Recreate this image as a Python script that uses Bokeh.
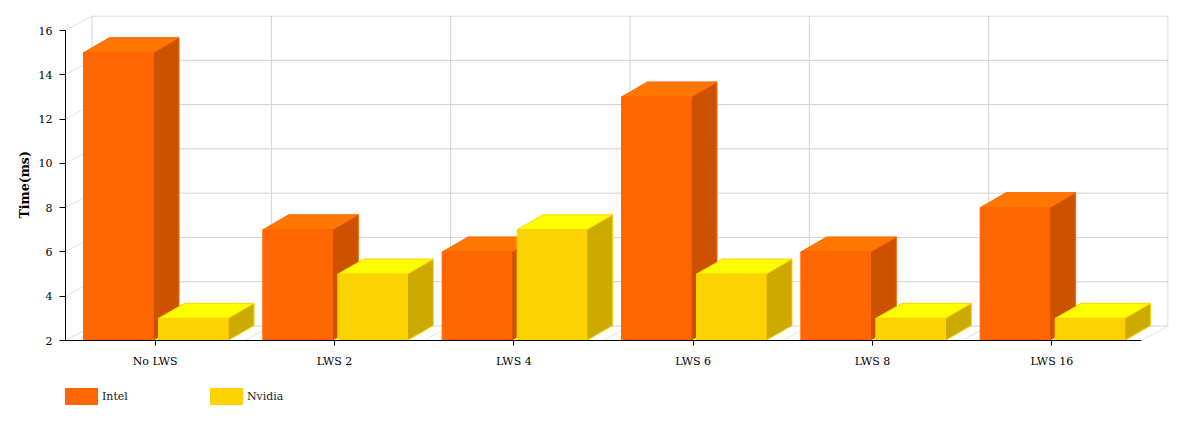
from bokeh.plotting import figure
from bokeh.layouts import column
from bokeh.models import Range1d, FixedTicker, Legend, LegendItem, Title
from bokeh.embed import file_html
from bokeh.resources import INLINE

categories = ["No LWS", "LWS 2", "LWS 4", "LWS 6", "LWS 8", "LWS 16"]
series_names = ["Intel", "Nvidia"]
intel = [15, 7, 6, 13, 6, 8]
nvidia = [3, 5, 7, 5, 3, 3]
y_ticks = [2, 4, 6, 8, 10, 12, 14, 16]

FONT = "DejaVu Serif"
Y0, Y1 = 2, 16
N = len(categories)

W, H = 1186, 375
L, R, T, B = 65, 18, 15, 35
PX_PER_X = 1076 / N              # pixels per category
PX_PER_Y = 310 / (Y1 - Y0)       # pixels per value unit
DX = 26 / PX_PER_X               # 3D depth of the bars, data units
DY = 15 / PX_PER_Y
WALL_DX = 26.5 / PX_PER_X        # 3D depth of the walls, on the pixel grid
WALL_DY = 14.5 / PX_PER_Y

p = figure(width=W, height=H, output_backend="svg", toolbar_location=None,
           x_range=Range1d(0, (W - L - R) / PX_PER_X),
           y_range=Range1d(Y0, Y0 + (H - T - B) / PX_PER_Y),
           min_border_left=L, min_border_right=R, min_border_top=T, min_border_bottom=B,
           outline_line_color=None, background_fill_color="white", border_fill_color="white")
p.xgrid.visible = False
p.ygrid.visible = False

WALL, SIDEWALL = "#d2d2d2", "#e2e2e2"
# back wall
p.multi_line([[WALL_DX, N + WALL_DX] for _ in y_ticks], [[v + WALL_DY, v + WALL_DY] for v in y_ticks], line_color=WALL, line_width=1)
p.multi_line([[i + WALL_DX, i + WALL_DX] for i in range(N + 1)], [[Y0 + WALL_DY, Y1 + WALL_DY] for _ in range(N + 1)], line_color=WALL, line_width=1)
# left wall
p.multi_line([[0, WALL_DX] for _ in y_ticks], [[v, v + WALL_DY] for v in y_ticks], line_color=SIDEWALL, line_width=1)
# floor
p.multi_line([[i, i + WALL_DX] for i in range(N + 1)], [[Y0, Y0 + WALL_DY] for _ in range(N + 1)], line_color=SIDEWALL, line_width=1)

BAR_W = 69.5 / PX_PER_X
PAD = 18 / PX_PER_X
GAP = 5.5 / PX_PER_X


def faces(x, v):
    x1 = x + BAR_W
    front = ([x, x1, x1, x], [Y0, Y0, v, v])
    side = ([x1, x1 + DX, x1 + DX, x1], [Y0, Y0 + DY, v + DY, v])
    top = ([x, x1, x1 + DX, x + DX], [v, v, v + DY, v + DY])
    return front, side, top


def draw_bar(x, v, c_front, c_side, c_top):
    front, side, top = faces(x, v)
    p.patch(*side, fill_color=c_side, line_color=c_front, line_width=1)
    p.patch(*top, fill_color=c_top, line_color=c_front, line_width=1)
    p.patch(*front, fill_color=c_front, line_color=c_front, line_width=1)


INTEL_C = ("#ff6600", "#cc5200", "#ff7700")
NVIDIA_C = ("#fcd202", "#ccaa00", "#ffff00")
for i in range(N):
    draw_bar(i + PAD, intel[i], *INTEL_C)
    draw_bar(i + PAD + BAR_W + GAP, nvidia[i], *NVIDIA_C)

# axes
yax = p.yaxis[0]
yax.ticker = FixedTicker(ticks=y_ticks)
yax.bounds = (Y0, Y1)
yax.major_label_text_font = FONT
yax.major_label_text_font_size = "11px"
yax.major_label_text_color = "#000000"
yax.major_label_standoff = 7
yax.major_tick_in = 0
yax.major_tick_out = 6
yax.minor_tick_in = 0
yax.minor_tick_out = 0
yax.axis_line_color = "#000000"
yax.major_tick_line_color = "#000000"

# the axis title sits at the middle of the axis, not of the taller frame
p.add_layout(Title(text="Time(ms)", align="left", offset=122, standoff=7,
                   text_font=FONT, text_font_style="bold", text_font_size="12.5px",
                   text_color="#000000"), "left")

xax = p.xaxis[0]
x_pos = [i + 0.5 for i in range(N)]
xax.ticker = FixedTicker(ticks=x_pos)
xax.major_label_overrides = dict(zip(x_pos, categories))
xax.bounds = (0, N)
xax.major_label_text_font = FONT
xax.major_label_text_font_size = "11px"
xax.major_label_text_color = "#000000"
xax.major_label_standoff = 9
xax.major_tick_in = 0
xax.major_tick_out = 5
xax.minor_tick_in = 0
xax.minor_tick_out = 0
xax.axis_line_color = "#000000"
xax.major_tick_line_color = "#000000"

# legend strip
p2 = figure(width=W, height=50, output_backend="svg", toolbar_location=None,
            x_range=Range1d(0, 1), y_range=Range1d(0, 1),
            min_border=0, outline_line_color=None, border_fill_color="white")
p2.xaxis.visible = False
p2.yaxis.visible = False
p2.xgrid.visible = False
p2.ygrid.visible = False
# keys of the legend: their own data lies outside the strip's range
r_i = p2.patch([2, 3, 3], [2, 2, 3], fill_color=INTEL_C[0], line_color=INTEL_C[0])
r_n = p2.patch([2, 3, 3], [2, 2, 3], fill_color=NVIDIA_C[0], line_color=NVIDIA_C[0])
legend = Legend(items=[LegendItem(label=series_names[0], renderers=[r_i]), LegendItem(label=series_names[1], renderers=[r_n])],
                orientation="horizontal", location=(-4, 19), glyph_width=40, glyph_height=20,
                label_text_font=FONT, label_text_font_size="11px", label_text_color="#222222",
                label_standoff=1, spacing=78, margin=0, padding=0, border_line_color=None,
                background_fill_color=None, background_fill_alpha=0, label_height=20)
p2.add_layout(legend, "center")

page = column(p, p2, spacing=0)
open("out.html", "w").write(file_html(page, INLINE))
